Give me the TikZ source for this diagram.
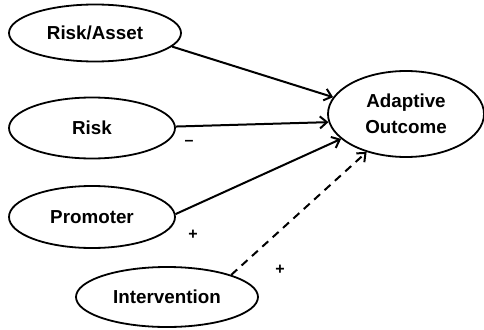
\documentclass[tikz,border=0pt]{standalone}
\usepackage{fontspec}
\setmainfont{Liberation Sans}
\usetikzlibrary{shapes.geometric,arrows.meta}
\begin{document}
\begin{tikzpicture}[x=1pt,y=-1pt,
  oval/.style={ellipse,draw,line width=1.8pt,inner sep=0pt,font=\bfseries\fontsize{18.8}{26}\selectfont,align=center},
  link/.style={line width=2pt,-{Straight Barb[length=7pt,width=12pt,line width=2pt]}},
  sign/.style={font=\bfseries\fontsize{16}{18}\selectfont,inner sep=0pt}]
\useasboundingbox (0,0) rectangle (484,329);
\node[oval,minimum width=172pt,minimum height=57pt] (ra) at (95,33) {Risk/Asset};
\node[oval,minimum width=166pt,minimum height=61pt] (r) at (92,128) {Risk};
\node[oval,minimum width=166pt,minimum height=62pt] (p) at (92,217) {Promoter};
\node[oval,minimum width=182pt,minimum height=60pt] (i) at (167,297) {Intervention};
\node[oval,minimum width=156pt,minimum height=86pt] (ao) at (406,114) {Adaptive\\Outcome};
\draw[link] (ra.-10) -- (ao.167);
\draw[link] (r.1) -- (ao.186);
\draw[link] (p.2) -- (ao.201);
\draw[link,dash pattern=on 8pt off 6pt] (i.19) -- (ao.224);
\node[sign] (m1) at (189,143) {–};
\node[sign] (p1) at (193,235) {+};
\node[sign] (p2) at (280,270) {+};
\end{tikzpicture}
\end{document}
